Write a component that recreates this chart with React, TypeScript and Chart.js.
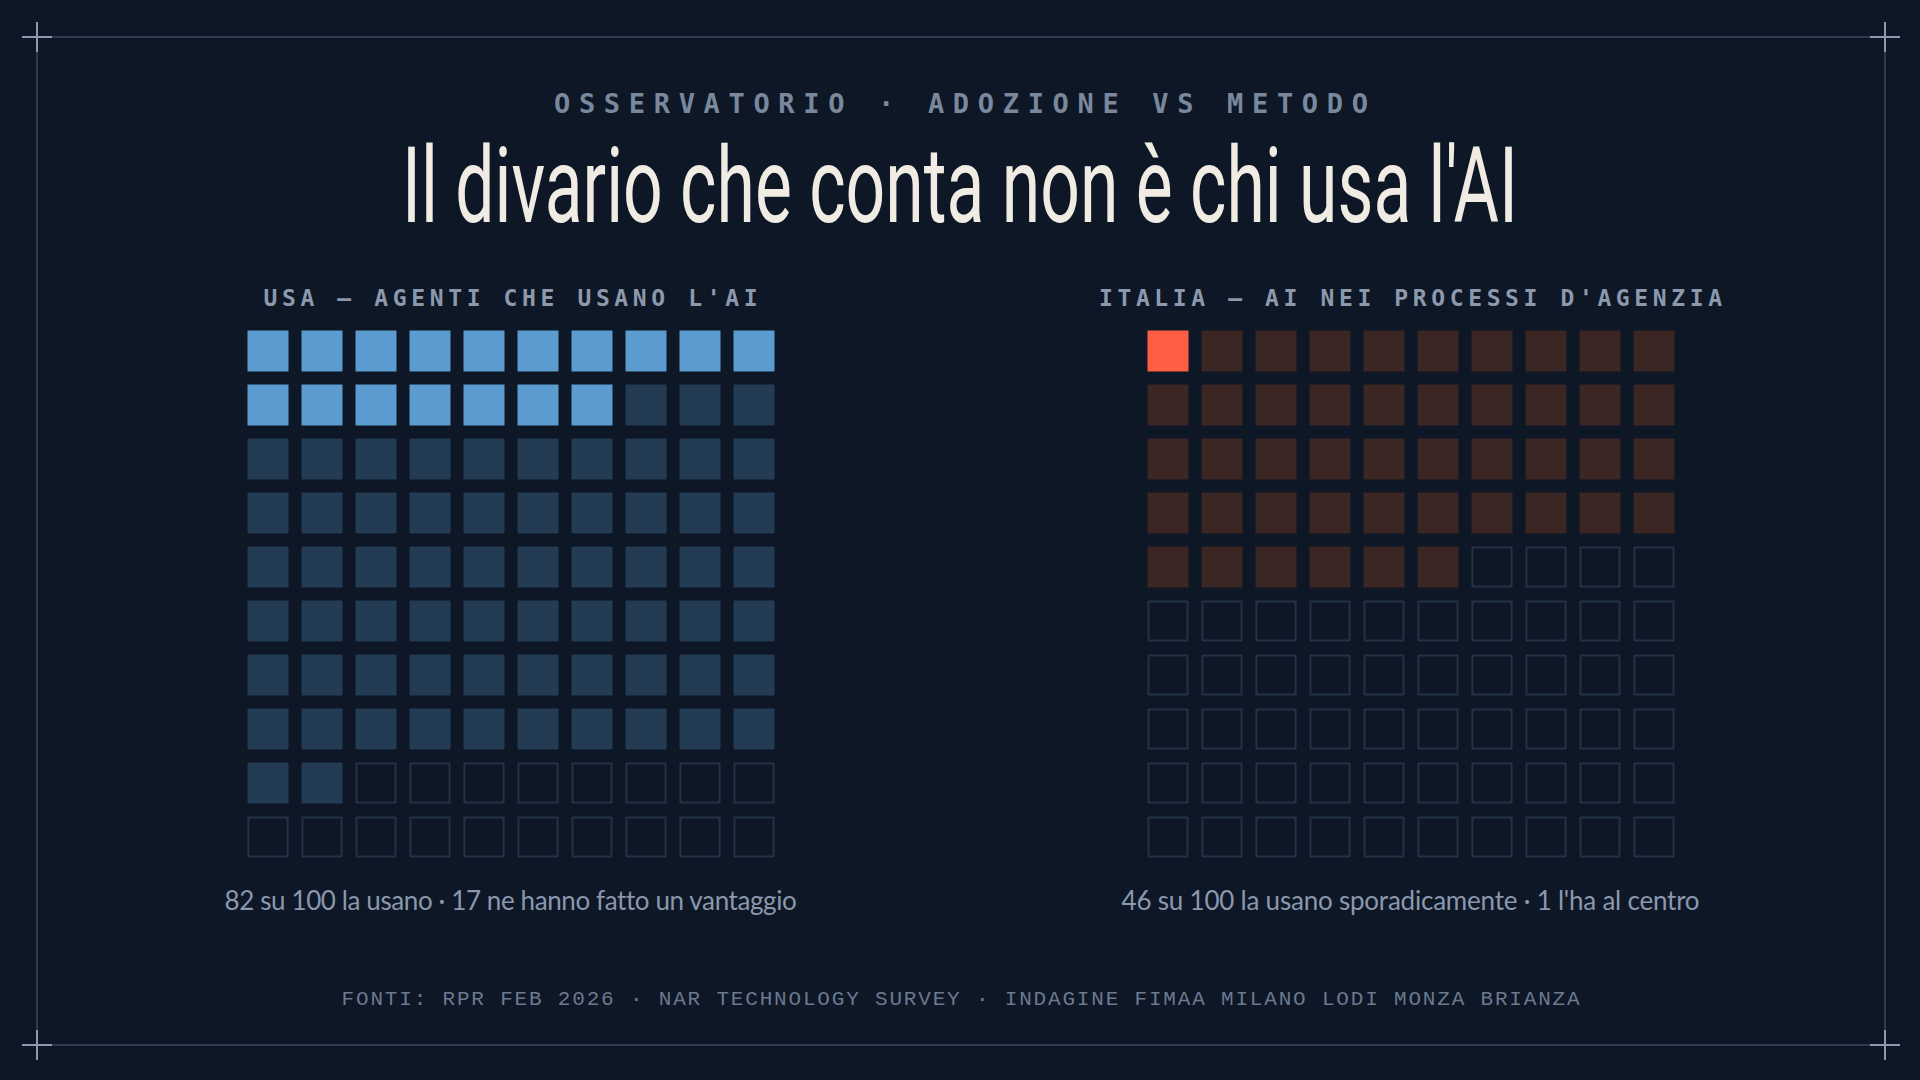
import React, { useEffect, useRef } from "react";
import { Chart, registerables } from "chart.js";

Chart.register(...registerables);

// ---------- data ----------
const GRID_SIZE = 10; // 10 x 10 = 100 agents
const panelKeys = ["USA", "ITALIA"];
const panelTitles = ["USA — AGENTI CHE USANO L'AI", "ITALIA — AI NEI PROCESSI D'AGENZIA"];
const coreCounts = [17, 1]; // ne hanno fatto un vantaggio / l'ha al centro
const useCounts = [82, 46]; // la usano (di 100)
const captions = [
  "82 su 100 la usano · 17 ne hanno fatto un vantaggio",
  "46 su 100 la usano sporadicamente · 1 l'ha al centro",
];
const kicker = "OSSERVATORIO · ADOZIONE VS METODO";
const headline = "Il divario che conta non è chi usa l'AI";
const footer =
  "FONTI: RPR FEB 2026 · NAR TECHNOLOGY SURVEY · INDAGINE FIMAA MILANO LODI MONZA BRIANZA";

// ---------- styles ----------
const BG = "#0d1726";
const coreColors = ["#5b9bcf", "#ff5e42"];
const useColors = ["#243b54", "#3b2624"];
const EMPTY_STROKE = "#223346";
const panelCenters = [510.5, 1410.5];

function measure(text: string, font: string) {
  const c = document.createElement("canvas").getContext("2d")!;
  c.font = font;
  return c.measureText(text).width;
}

function SpacedText(props: {
  text: string;
  family: string;
  size: number;
  weight: number;
  target: number;
  cx: number;
  top: number;
  color: string;
}) {
  const { text, family, size, weight, target, cx, top, color } = props;
  const font = `${weight} ${size}px ${family}`;
  const w = measure(text, font);
  const n = Array.from(text).length;
  const ls = (target - w) / (n - 1);
  return (
    <div
      style={{
        position: "absolute",
        left: cx - 1200,
        width: 2400,
        top,
        textAlign: "center",
        fontFamily: family,
        fontSize: size,
        fontWeight: weight,
        lineHeight: 1,
        letterSpacing: ls,
        color,
        whiteSpace: "nowrap",
      }}
    >
      <span style={{ paddingLeft: ls }}>{text}</span>
    </div>
  );
}

function ScaledText(props: {
  text: string;
  family: string;
  size: number;
  weight: number;
  target: number;
  cx: number;
  top: number;
  color: string;
}) {
  const { text, family, size, weight, target, cx, top, color } = props;
  const font = `${weight} ${size}px ${family}`;
  const w = measure(text, font);
  const s = target / w;
  return (
    <div
      style={{
        position: "absolute",
        left: cx - 1200,
        width: 2400,
        top,
        textAlign: "center",
        fontFamily: family,
        fontSize: size,
        fontWeight: weight,
        lineHeight: 1,
        color,
        whiteSpace: "nowrap",
      }}
    >
      <span
        style={{
          display: "inline-block",
          transform: `scaleX(${s})`,
          transformOrigin: "50% 50%",
        }}
      >
        {text}
      </span>
    </div>
  );
}

function Waffle(props: { core: number; used: number; coreColor: string; useColor: string; left: number; top: number }) {
  const ref = useRef<HTMLCanvasElement | null>(null);
  const { core, used, coreColor, useColor, left, top } = props;
  useEffect(() => {
    if (!ref.current) return;
    const cells = Array.from({ length: GRID_SIZE * GRID_SIZE }, (_, k) => ({
      x: k % GRID_SIZE,
      y: Math.floor(k / GRID_SIZE),
      k,
    }));
    const coreCells = cells.filter((c) => c.k < core).map(({ x, y }) => ({ x, y }));
    const useCells = cells.filter((c) => c.k >= core && c.k < used).map(({ x, y }) => ({ x, y }));
    const emptyCells = cells.filter((c) => c.k >= used).map(({ x, y }) => ({ x, y }));
    const chart = new Chart(ref.current, {
      type: "scatter",
      data: {
        datasets: [
          {
            data: emptyCells,
            pointStyle: "rect",
            pointRadius: 27.6,
            backgroundColor: "rgba(0,0,0,0)",
            borderColor: EMPTY_STROKE,
            borderWidth: 2,
          },
          {
            data: useCells,
            pointStyle: "rect",
            pointRadius: 29,
            backgroundColor: useColor,
            borderWidth: 0,
          },
          {
            data: coreCells,
            pointStyle: "rect",
            pointRadius: 29,
            backgroundColor: coreColor,
            borderWidth: 0,
          },
        ],
      },
      options: {
        animation: false,
        responsive: false,
        maintainAspectRatio: false,
        events: [],
        layout: { padding: 0, autoPadding: false },
        plugins: { legend: { display: false }, tooltip: { enabled: false } },
        scales: {
          x: { type: "linear", min: -0.5, max: GRID_SIZE - 0.5, display: false },
          y: { type: "linear", min: -0.5, max: GRID_SIZE - 0.5, reverse: true, display: false },
        },
      },
    });
    return () => chart.destroy();
  }, [core, used, coreColor, useColor]);
  return (
    <canvas
      ref={ref}
      width={540}
      height={540}
      style={{ position: "absolute", left, top, width: 540, height: 540 }}
    />
  );
}

function Cross({ x, y }: { x: number; y: number }) {
  return (
    <>
      <div style={{ position: "absolute", left: x - 15, top: y - 1, width: 30, height: 2, background: "#8d9bb0" }} />
      <div style={{ position: "absolute", left: x - 1, top: y - 15, width: 2, height: 30, background: "#8d9bb0" }} />
    </>
  );
}

export default function App() {
  useEffect(() => {
    document.body.style.margin = "0";
    document.body.style.background = BG;
  }, []);
  const line = "rgba(120,140,170,0.32)";
  return (
    <div
      style={{
        position: "fixed",
        left: 0,
        top: 0,
        width: 1920,
        height: 1080,
        background: BG,
        overflow: "hidden",
      }}
    >
      {/* frame */}
      <div style={{ position: "absolute", left: 37, top: 36, width: 1848, height: 1.5, background: line }} />
      <div style={{ position: "absolute", left: 37, top: 1044, width: 1848, height: 1.5, background: line }} />
      <div style={{ position: "absolute", left: 36, top: 37, width: 1.5, height: 1008, background: line }} />
      <div style={{ position: "absolute", left: 1884, top: 37, width: 1.5, height: 1008, background: line }} />
      <Cross x={37} y={37} />
      <Cross x={1885} y={37} />
      <Cross x={37} y={1045} />
      <Cross x={1885} y={1045} />

      <SpacedText
        text={kicker}
        family="'DejaVu Sans Mono', monospace"
        size={27}
        weight={700}
        target={814}
        cx={961}
        top={90}
        color="#7a889d"
      />
      <ScaledText
        text={headline}
        family="Roboto, sans-serif"
        size={105}
        weight={400}
        target={1116}
        cx={960}
        top={134}
        color="#f1ece3"
      />

      {panelKeys.map((key, i) => (
        <React.Fragment key={key}>
          <SpacedText
            text={panelTitles[i]}
            family="'DejaVu Sans Mono', monospace"
            size={23}
            weight={700}
            target={i === 0 ? 494 : 623}
            cx={panelCenters[i]}
            top={287}
            color="#8c99ad"
          />
          <Waffle
            core={coreCounts[i]}
            used={useCounts[i]}
            coreColor={coreColors[i]}
            useColor={useColors[i]}
            left={panelCenters[i] - 270}
            top={324}
          />
          <SpacedText
            text={captions[i]}
            family="Lato, sans-serif"
            size={26}
            weight={400}
            target={i === 0 ? 572 : 578}
            cx={panelCenters[i]}
            top={887}
            color="#8a98ad"
          />
        </React.Fragment>
      ))}

      <SpacedText
        text={footer}
        family="'Liberation Mono', monospace"
        size={21}
        weight={400}
        target={1238}
        cx={960.6}
        top={989}
        color="#6b7a8f"
      />
    </div>
  );
}
